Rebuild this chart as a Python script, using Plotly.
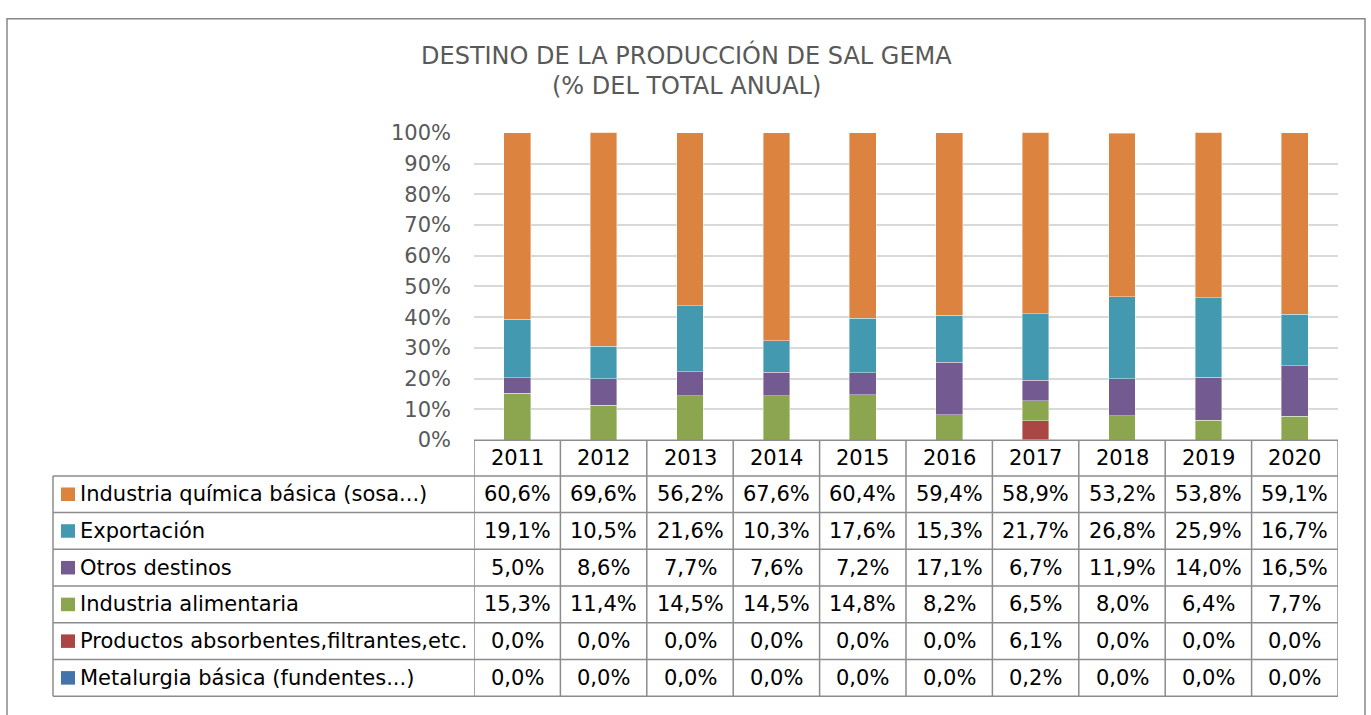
import plotly.graph_objects as go

W, H = 1371, 715

years = [2011, 2012, 2013, 2014, 2015, 2016, 2017, 2018, 2019, 2020]

quimica = [60.6, 69.6, 56.2, 67.6, 60.4, 59.4, 58.9, 53.2, 53.8, 59.1]
exportacion = [19.1, 10.5, 21.6, 10.3, 17.6, 15.3, 21.7, 26.8, 25.9, 16.7]
otros = [5.0, 8.6, 7.7, 7.6, 7.2, 17.1, 6.7, 11.9, 14.0, 16.5]
alimentaria = [15.3, 11.4, 14.5, 14.5, 14.8, 8.2, 6.5, 8.0, 6.4, 7.7]
absorbentes = [0.0, 0.0, 0.0, 0.0, 0.0, 0.0, 6.1, 0.0, 0.0, 0.0]
metalurgia = [0.0, 0.0, 0.0, 0.0, 0.0, 0.0, 0.2, 0.0, 0.0, 0.0]

# table order (top to bottom); bars are stacked in reverse
series = [
    ("Industria química básica (sosa...)", quimica, "#DC843F"),
    ("Exportación", exportacion, "#4299B0"),
    ("Otros destinos", otros, "#735A91"),
    ("Industria alimentaria", alimentaria, "#8BA64F"),
    ("Productos absorbentes,filtrantes,etc.", absorbentes, "#AA4744"),
    ("Metalurgia básica (fundentes...)", metalurgia, "#4472AA"),
]

FONT = "DejaVu Sans"
GREY = "#595959"
BORDER = "#8c8c8c"


def px(x):
    return x / W


def py(y):
    return 1 - y / H


# pixel geometry of the plot and the data table
plot_left, plot_right = 474, 1338
plot_top, plot_bottom = 125, 443
table_left = 53
head_bottom = 480
row_h = 38

fig = go.Figure()

for name, vals, color in reversed(series):
    fig.add_trace(go.Bar(
        x=years, y=vals, name=name,
        marker=dict(color=color, line=dict(color="white", width=0.4)),
        width=0.31, hoverinfo="skip", showlegend=False,
    ))

shapes = []
annotations = []

# title
for txt, yy in [("DESTINO DE LA PRODUCCIÓN DE SAL GEMA", 45), ("(% DEL TOTAL ANUAL)", 77)]:
    annotations.append(dict(text=txt, x=px(686), y=py(yy), xref="paper", yref="paper",
                            xanchor="center", yanchor="middle", showarrow=False,
                            font=dict(size=24, color=GREY, family=FONT)))

line = dict(color=BORDER, width=1.5)
n_rows = len(series)
table_bottom = head_bottom + n_rows * row_h

# horizontal lines
shapes.append(dict(type="line", xref="paper", yref="paper",
                   x0=px(plot_left), x1=px(plot_right), y0=py(plot_bottom), y1=py(plot_bottom), line=line))
for r in range(n_rows + 1):
    yy = head_bottom + r * row_h
    shapes.append(dict(type="line", xref="paper", yref="paper",
                       x0=px(table_left), x1=px(plot_right), y0=py(yy), y1=py(yy), line=line))
# vertical lines
shapes.append(dict(type="line", xref="paper", yref="paper",
                   x0=px(table_left), x1=px(table_left), y0=py(head_bottom), y1=py(table_bottom), line=line))
for i in range(len(years) + 1):
    xx = years[0] - 0.5 + i
    shapes.append(dict(type="line", xref="x", yref="paper",
                       x0=xx, x1=xx, y0=py(plot_bottom), y1=py(table_bottom), line=line))

cell_font = dict(size=21, color="black", family=FONT)

# header
for yr in years:
    annotations.append(dict(text=str(yr), x=yr, y=py((plot_bottom + head_bottom) / 2),
                            xref="x", yref="paper", yanchor="middle", showarrow=False,
                            font=cell_font))

# rows
for r, (name, vals, color) in enumerate(series):
    yc = head_bottom + r * row_h + row_h / 2
    shapes.append(dict(type="rect", xref="paper", yref="paper",
                       x0=px(61), x1=px(75), y0=py(yc - 7), y1=py(yc + 7),
                       fillcolor=color, line=dict(width=0)))
    annotations.append(dict(text=name, x=px(78), y=py(yc), xref="paper", yref="paper",
                            xanchor="left", yanchor="middle", showarrow=False,
                            font=cell_font))
    for yr, v in zip(years, vals):
        annotations.append(dict(text=f"{v:.1f}".replace(".", ",") + "%", x=yr, y=py(yc),
                                xref="x", yref="paper", yanchor="middle", showarrow=False,
                                font=cell_font))

# outer chart border
shapes.append(dict(type="rect", xref="paper", yref="paper",
                   x0=px(7), x1=px(1365), y0=-0.05, y1=py(7),
                   line=dict(color="#888888", width=1.5)))

fig.update_layout(
    autosize=True,
    margin=dict(l=0, r=0, t=0, b=0),
    paper_bgcolor="white", plot_bgcolor="white",
    barmode="stack",
    shapes=shapes, annotations=annotations,
    xaxis=dict(domain=[px(plot_left), px(plot_right)], range=[years[0] - 0.5, years[-1] + 0.5],
               showticklabels=False, showgrid=False, zeroline=False, showline=False, fixedrange=True),
    yaxis=dict(domain=[py(plot_bottom), py(plot_top)], range=[0, 100], dtick=10,
               ticksuffix="%", showgrid=True, gridcolor="#d9d9d9", gridwidth=1.5,
               zeroline=False, showline=False, ticks="", ticklabelstandoff=22,
               tickfont=dict(size=21, color=GREY, family=FONT), fixedrange=True),
)

# let the figure fill the whole window, pinned to the top-left corner
pin = ("document.body.style.margin='0';document.body.style.overflow='hidden';"
       "var d=document.getElementById('{plot_id}');"
       "d.style.position='fixed';d.style.left='0';d.style.top='0';"
       "d.style.width='100vw';d.style.height='100vh';Plotly.Plots.resize(d);")

fig.write_html("out.html", default_width="100vw", default_height="100vh",
               config={"displayModeBar": False, "responsive": True}, post_script=pin)
